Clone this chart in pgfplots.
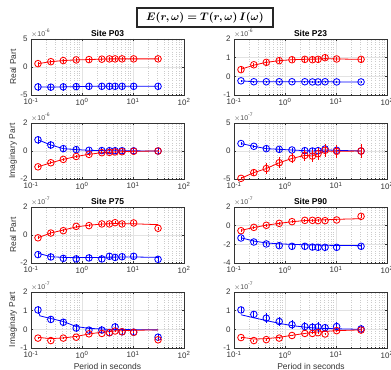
\documentclass[border=0pt]{standalone}
\usepackage{pgfplots}
\pgfplotsset{compat=1.18}
\usepackage{amsmath}
\usepackage{bm}
\usepackage{fontspec}
\setmainfont{Liberation Sans}
\pgfplotsset{
  mypanel/.style={
    scale only axis, width=153bp, height=56bp,
    xmin=0.1, xmax=100, clip mode=individual,
    xtick={0.1,1,10,100},
    xticklabels={10\textsuperscript{-1},10\textsuperscript{0},10\textsuperscript{1},10\textsuperscript{2}},
    grid=both,
    major grid style={gray!22, line width=0.4pt},
    minor grid style={gray!40, dotted, line width=0.4pt},
    tick align=inside,
    major tick length=2.2bp, minor tick length=1.2bp,
    axis line style={black!80, line width=0.5pt},
    every tick/.style={black!80, line width=0.4pt},
    tick label style={font=\fontsize{8}{9}\selectfont, text=black!80},
    xticklabel style={yshift=0.5bp},
  },
  rline/.style={red, line width=0.8pt, mark=none},
  bline/.style={blue, line width=0.8pt, mark=none},
  rpts/.style={red, only marks, mark=o, mark size=3.3bp, mark options={line width=0.85pt},
    error bars/y dir=both, error bars/y explicit, error bars/error mark=none,
    error bars/error bar style={line width=0.85pt}},
  bpts/.style={blue, only marks, mark=o, mark size=3.3bp, mark options={line width=0.85pt},
    error bars/y dir=both, error bars/y explicit, error bars/error mark=none,
    error bars/error bar style={line width=0.85pt}},
}
\newcommand{\expo}[1]{\node[anchor=base west, inner sep=0pt, font=\fontsize{7}{8}\selectfont, text=black!70] at (rel axis cs:0,1) [yshift=3bp] {$\times$10\textsuperscript{#1}};}
\newcommand{\ptitle}[1]{\node[anchor=base, inner sep=0pt, font=\bfseries\fontsize{8.5}{9}\selectfont] at (rel axis cs:0.5,1) [yshift=3bp] {#1};}
\begin{document}
\begin{tikzpicture}
\useasboundingbox (0,0) rectangle (391bp,-370bp);
\clip (0,0) rectangle (391bp,-370bp);

\node[draw=black!85, line width=1.1pt, minimum width=136bp, minimum height=19bp, inner sep=1pt, font=\fontsize{11}{12}\selectfont] at (205bp,-17.5bp) {$\bm{E(r,\omega) = T(r,\omega)\,I(\omega)}$};

% ---------- Row 1 left: P03 Real ----------
\begin{semilogxaxis}[mypanel, ymin=-5, ymax=5, ytick={-5,0,5}, yticklabels={-5,0,5}, at={(31bp,-39bp)}, anchor=north west]
\addplot[rline] coordinates {(0.137,0.6)(0.245,0.95)(0.43,1.15)(0.77,1.27)(1.37,1.33)(2.45,1.4)(3.45,1.45)(4.45,1.45)(6.1,1.45)(10.3,1.45)(31,1.45)};
\addplot[bline] coordinates {(0.137,-3.55)(0.245,-3.6)(0.43,-3.55)(0.77,-3.5)(1.37,-3.45)(2.45,-3.45)(3.45,-3.45)(4.45,-3.45)(6.1,-3.45)(10.3,-3.45)(31,-3.45)};
\addplot[rpts] coordinates {(0.137,0.6)+-(0,0.35)(0.245,0.95)+-(0,0.35)(0.43,1.15)+-(0,0.35)(0.77,1.27)+-(0,0.35)(1.37,1.33)+-(0,0.35)(2.45,1.4)+-(0,0.35)(3.45,1.45)+-(0,0.35)(4.45,1.45)+-(0,0.35)(6.1,1.45)+-(0,0.35)(10.3,1.45)+-(0,0.35)(31,1.45)+-(0,0.35)};
\addplot[bpts] coordinates {(0.137,-3.55)+-(0,0.65)(0.245,-3.6)+-(0,0.65)(0.43,-3.55)+-(0,0.65)(0.77,-3.5)+-(0,0.65)(1.37,-3.45)+-(0,0.65)(2.45,-3.45)+-(0,0.65)(3.45,-3.45)+-(0,0.65)(4.45,-3.45)+-(0,0.65)(6.1,-3.45)+-(0,0.65)(10.3,-3.45)+-(0,0.65)(31,-3.45)+-(0,0.65)};
\expo{-6}
\ptitle{Site P03}
\end{semilogxaxis}

% ---------- Row 1 right: P23 Real ----------
\begin{semilogxaxis}[mypanel, ymin=-1, ymax=2, ytick={-1,0,1,2}, yticklabels={-1,0,1,2}, at={(234bp,-39bp)}, anchor=north west]
\addplot[rline] coordinates {(0.137,0.38)(0.245,0.6)(0.43,0.75)(0.77,0.84)(1.37,0.89)(2.45,0.91)(3.45,0.92)(4.45,0.93)(6.1,0.95)(10.3,0.93)(31,0.91)};
\addplot[bline] coordinates {(0.137,-0.24)(0.245,-0.29)(0.43,-0.29)(0.77,-0.29)(1.37,-0.29)(2.45,-0.29)(3.45,-0.3)(4.45,-0.3)(6.1,-0.29)(10.3,-0.3)(31,-0.3)};
\addplot[rpts] coordinates {(0.137,0.36)+-(0,0.12)(0.245,0.62)+-(0,0.12)(0.43,0.75)+-(0,0.12)(0.77,0.84)+-(0,0.12)(1.37,0.89)+-(0,0.12)(2.45,0.91)+-(0,0.12)(3.45,0.89)+-(0,0.12)(4.45,0.91)+-(0,0.12)(6.1,1.0)+-(0,0.12)(10.3,0.93)+-(0,0.12)(31,0.91)+-(0,0.12)};
\addplot[bpts] coordinates {(0.137,-0.24)+-(0,0.05)(0.245,-0.29)+-(0,0.05)(0.43,-0.29)+-(0,0.05)(0.77,-0.29)+-(0,0.05)(1.37,-0.29)+-(0,0.05)(2.45,-0.29)+-(0,0.05)(3.45,-0.3)+-(0,0.05)(4.45,-0.3)+-(0,0.05)(6.1,-0.29)+-(0,0.05)(10.3,-0.3)+-(0,0.05)(31,-0.3)+-(0,0.05)};
\expo{-6}
\ptitle{Site P23}
\end{semilogxaxis}

% ---------- Row 2 left: P03 Imag ----------
\begin{semilogxaxis}[mypanel, ymin=-2, ymax=2, ytick={-2,0,2}, yticklabels={-2,0,2}, at={(31bp,-123bp)}, anchor=north west]
\addplot[bline] coordinates {(0.137,0.8)(0.245,0.43)(0.43,0.17)(0.77,0.1)(1.37,0.05)(2.45,0.03)(3.45,0.02)(4.45,0.02)(6.1,0.02)(10.3,0.01)(31,0.0)};
\addplot[rline] coordinates {(0.137,-1.13)(0.245,-0.84)(0.43,-0.6)(0.77,-0.39)(1.37,-0.24)(2.45,-0.12)(3.45,-0.1)(4.45,-0.07)(6.1,-0.05)(10.3,-0.02)(31,0.0)};
\addplot[bpts] coordinates {(0.137,0.8)+-(0,0.3)(0.245,0.43)+-(0,0.3)(0.43,0.17)+-(0,0.25)(0.77,0.1)+-(0,0.2)(1.37,0.05)+-(0,0.2)(2.45,0.03)+-(0,0.2)(3.45,0.02)+-(0,0.2)(4.45,0.02)+-(0,0.2)(6.1,0.02)+-(0,0.2)(10.3,0.01)+-(0,0.2)(31,0.0)+-(0,0.2)};
\addplot[rpts] coordinates {(0.137,-1.13)+-(0,0.1)(0.245,-0.84)+-(0,0.1)(0.43,-0.6)+-(0,0.1)(0.77,-0.39)+-(0,0.1)(1.37,-0.24)+-(0,0.1)(2.45,-0.12)+-(0,0.1)(3.45,-0.1)+-(0,0.1)(4.45,-0.07)+-(0,0.1)(6.1,-0.05)+-(0,0.1)(10.3,-0.02)+-(0,0.1)(31,0.0)+-(0,0.1)};
\expo{-6}
\end{semilogxaxis}

% ---------- Row 2 right: P23 Imag ----------
\begin{semilogxaxis}[mypanel, ymin=-5, ymax=5, ytick={-5,0,5}, yticklabels={-5,0,5}, at={(234bp,-123bp)}, anchor=north west]
\addplot[bline] coordinates {(0.137,1.33)(0.245,0.84)(0.43,0.42)(0.77,0.3)(1.37,0.18)(2.45,0.06)(3.45,0.0)(4.45,0.06)(6.1,0.2)(10.3,0.12)(31,0.0)};
\addplot[rline] coordinates {(0.137,-4.88)(0.245,-3.86)(0.43,-3.13)(0.77,-2.1)(1.37,-1.33)(2.45,-0.78)(3.45,-0.9)(4.45,-0.48)(6.1,0.0)(10.3,-0.06)(31,0.0)};
\addplot[bpts] coordinates {(0.137,1.33)+-(0,0.3)(0.245,0.84)+-(0,0.3)(0.43,0.42)+-(0,0.4)(0.77,0.3)+-(0,0.4)(1.37,0.18)+-(0,0.4)(2.45,0.06)+-(0,0.5)(3.45,0.0)+-(0,0.5)(4.45,0.06)+-(0,0.5)(6.1,0.36)+-(0,0.6)(10.3,0.12)+-(0,0.5)(31,0.0)+-(0,0.6)};
\addplot[rpts] coordinates {(0.137,-4.88)+-(0,0.3)(0.245,-3.86)+-(0,0.6)(0.43,-3.13)+-(0,0.9)(0.77,-2.1)+-(0,1.0)(1.37,-1.33)+-(0,0.9)(2.45,-0.78)+-(0,1.0)(3.45,-0.9)+-(0,1.0)(4.45,-0.48)+-(0,1.1)(6.1,0.12)+-(0,1.2)(10.3,-0.06)+-(0,1.2)(31,0.0)+-(0,1.3)};
\expo{-7}
\end{semilogxaxis}

% ---------- Row 3 left: P75 Real ----------
\begin{semilogxaxis}[mypanel, ymin=-2, ymax=2, ytick={-2,0,2}, yticklabels={-2,0,2}, at={(31bp,-207bp)}, anchor=north west]
\addplot[rline] coordinates {(0.137,-0.2)(0.245,0.15)(0.43,0.35)(0.77,0.58)(1.37,0.7)(2.45,0.78)(3.45,0.8)(4.45,0.82)(6.1,0.8)(10.3,0.8)(31,0.74)};
\addplot[bline] coordinates {(0.137,-1.3)(0.245,-1.55)(0.43,-1.6)(0.77,-1.62)(1.37,-1.6)(2.45,-1.6)(3.45,-1.58)(4.45,-1.58)(6.1,-1.57)(10.3,-1.57)(31,-1.6)};
\addplot[rpts] coordinates {(0.137,-0.2)+-(0,0.12)(0.245,0.14)+-(0,0.12)(0.43,0.31)+-(0,0.12)(0.77,0.62)+-(0,0.12)(1.37,0.67)+-(0,0.12)(2.45,0.79)+-(0,0.12)(3.45,0.79)+-(0,0.12)(4.45,0.88)+-(0,0.12)(6.1,0.79)+-(0,0.12)(10.3,0.86)+-(0,0.12)(31,0.48)+-(0,0.12)};
\addplot[bpts] coordinates {(0.137,-1.4)+-(0,0.25)(0.245,-1.57)+-(0,0.25)(0.43,-1.67)+-(0,0.25)(0.77,-1.71)+-(0,0.25)(1.37,-1.64)+-(0,0.25)(2.45,-1.71)+-(0,0.25)(3.45,-1.52)+-(0,0.25)(4.45,-1.6)+-(0,0.25)(6.1,-1.55)+-(0,0.25)(10.3,-1.52)+-(0,0.25)(31,-1.74)+-(0,0.25)};
\expo{-7}
\ptitle{Site P75}
\end{semilogxaxis}

% ---------- Row 3 right: P90 Real ----------
\begin{semilogxaxis}[mypanel, ymin=-4, ymax=2, ytick={-4,-2,0,2}, yticklabels={-4,-2,0,2}, at={(234bp,-207bp)}, anchor=north west]
\addplot[rline] coordinates {(0.137,-0.5)(0.245,-0.2)(0.43,0.05)(0.77,0.25)(1.37,0.42)(2.45,0.55)(3.45,0.58)(4.45,0.6)(6.1,0.63)(10.3,0.68)(31,0.75)};
\addplot[bline] coordinates {(0.137,-1.3)(0.245,-1.65)(0.43,-1.85)(0.77,-1.95)(1.37,-2.0)(2.45,-2.05)(3.45,-2.07)(4.45,-2.08)(6.1,-2.1)(10.3,-2.12)(31,-2.14)};
\addplot[rpts] coordinates {(0.137,-0.54)+-(0,0.15)(0.245,-0.18)+-(0,0.15)(0.43,0.04)+-(0,0.15)(0.77,0.25)+-(0,0.15)(1.37,0.43)+-(0,0.15)(2.45,0.57)+-(0,0.15)(3.45,0.57)+-(0,0.15)(4.45,0.54)+-(0,0.15)(6.1,0.54)+-(0,0.15)(10.3,0.61)+-(0,0.15)(31,1.0)+-(0,0.2)};
\addplot[bpts] coordinates {(0.137,-1.32)+-(0,0.25)(0.245,-1.75)+-(0,0.25)(0.43,-1.96)+-(0,0.25)(0.77,-2.14)+-(0,0.3)(1.37,-2.21)+-(0,0.3)(2.45,-2.21)+-(0,0.3)(3.45,-2.29)+-(0,0.3)(4.45,-2.32)+-(0,0.3)(6.1,-2.32)+-(0,0.3)(10.3,-2.32)+-(0,0.3)(31,-2.21)+-(0,0.25)};
\expo{-7}
\ptitle{Site P90}
\end{semilogxaxis}

% ---------- Row 4 left: P75 Imag ----------
\begin{semilogxaxis}[mypanel, ymin=-1, ymax=2, ytick={-1,0,1,2}, yticklabels={-1,0,1,2}, at={(31bp,-292bp)}, anchor=north west]
\addplot[bline] coordinates {(0.137,1.0)(0.15,0.72)(0.245,0.58)(0.43,0.42)(0.77,0.15)(1.37,0.05)(2.45,0.02)(3.45,0.0)(4.45,0.0)(6.1,-0.01)(10.3,-0.02)(31,-0.03)};
\addplot[rline] coordinates {(0.137,-0.43)(0.245,-0.5)(0.43,-0.46)(0.77,-0.38)(1.37,-0.25)(2.45,-0.15)(3.45,-0.12)(4.45,-0.08)(6.1,-0.07)(10.3,-0.05)(31,-0.03)};
\addplot[bpts] coordinates {(0.137,1.04)+-(0,0.2)(0.245,0.53)+-(0,0.2)(0.43,0.38)+-(0,0.2)(0.77,0.07)+-(0,0.2)(1.37,-0.04)+-(0,0.15)(2.45,-0.04)+-(0,0.2)(3.45,-0.18)+-(0,0.2)(4.45,0.13)+-(0,0.2)(6.1,-0.13)+-(0,0.15)(10.3,-0.15)+-(0,0.15)(31,-0.42)+-(0,0.15)};
\addplot[rpts] coordinates {(0.137,-0.47)+-(0,0.05)(0.245,-0.6)+-(0,0.05)(0.43,-0.47)+-(0,0.05)(0.77,-0.42)+-(0,0.05)(1.37,-0.24)+-(0,0.05)(2.45,-0.22)+-(0,0.05)(3.45,-0.18)+-(0,0.05)(4.45,-0.09)+-(0,0.05)(6.1,-0.13)+-(0,0.05)(10.3,-0.16)+-(0,0.05)(31,-0.56)+-(0,0.05)};
\expo{-7}
\end{semilogxaxis}

% ---------- Row 4 right: P90 Imag ----------
\begin{semilogxaxis}[mypanel, ymin=-1, ymax=2, ytick={-1,0,1,2}, yticklabels={-1,0,1,2}, at={(234bp,-292bp)}, anchor=north west]
\addplot[bline] coordinates {(0.137,0.78)(0.245,0.62)(0.43,0.47)(0.77,0.32)(1.37,0.2)(2.45,0.12)(3.45,0.08)(4.45,0.06)(6.1,0.05)(10.3,0.03)(31,0.0)};
\addplot[rline] coordinates {(0.137,-0.42)(0.245,-0.52)(0.43,-0.5)(0.77,-0.43)(1.37,-0.32)(2.45,-0.22)(3.45,-0.17)(4.45,-0.14)(6.1,-0.11)(10.3,-0.07)(31,-0.03)};
\addplot[bpts] coordinates {(0.137,1.04)+-(0,0.15)(0.245,0.8)+-(0,0.2)(0.43,0.6)+-(0,0.25)(0.77,0.42)+-(0,0.25)(1.37,0.25)+-(0,0.25)(2.45,0.15)+-(0,0.25)(3.45,0.11)+-(0,0.25)(4.45,0.13)+-(0,0.25)(6.1,0.09)+-(0,0.2)(10.3,0.15)+-(0,0.25)(31,0.02)+-(0,0.2)};
\addplot[rpts] coordinates {(0.137,-0.44)+-(0,0.05)(0.245,-0.6)+-(0,0.05)(0.43,-0.55)+-(0,0.05)(0.77,-0.47)+-(0,0.05)(1.37,-0.33)+-(0,0.05)(2.45,-0.22)+-(0,0.05)(3.45,-0.22)+-(0,0.05)(4.45,-0.18)+-(0,0.05)(6.1,-0.25)+-(0,0.05)(10.3,-0.07)+-(0,0.05)(31,-0.04)+-(0,0.1)};
\expo{-7}
\end{semilogxaxis}

% axis labels
\begin{scope}[font=\fontsize{8.5}{10}\selectfont, text=black!80]
\node[rotate=90] at (13bp,-67bp) {Real Part};
\node[rotate=90] at (13bp,-151bp) {Imaginary Part};
\node[rotate=90] at (13bp,-235bp) {Real Part};
\node[rotate=90] at (13bp,-319.5bp) {Imaginary Part};
\node at (107.5bp,-366bp) {Period in seconds};
\node at (311bp,-366bp) {Period in seconds};
\end{scope}
\end{tikzpicture}
\end{document}
